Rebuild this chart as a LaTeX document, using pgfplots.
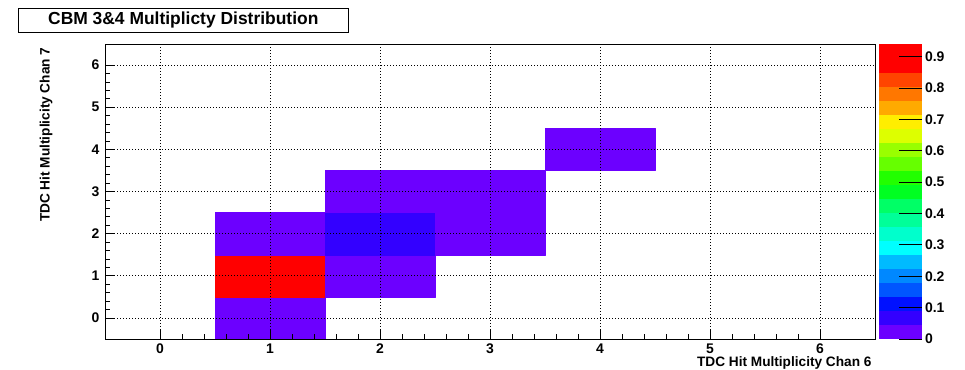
\documentclass[border=0pt]{standalone}
\usepackage{fontspec}
\setmainfont{Liberation Sans}
\usepackage{pgfplots}
\pgfplotsset{compat=1.18}
\usepgfplotslibrary{patchplots}
\pgfplotsset{
  colormap={rootpal}{
    rgb255=(108,0,255) rgb255=(51,0,255) rgb255=(0,17,255) rgb255=(0,85,255)
    rgb255=(0,136,255) rgb255=(0,187,255) rgb255=(0,255,255) rgb255=(0,255,204)
    rgb255=(0,255,153) rgb255=(0,255,102) rgb255=(0,255,34) rgb255=(34,255,0)
    rgb255=(102,255,0) rgb255=(153,255,0) rgb255=(221,255,0) rgb255=(255,238,0)
    rgb255=(255,170,0) rgb255=(255,119,0) rgb255=(255,68,0) rgb255=(255,0,0)
    rgb255=(255,0,0)
  }
}
% cell corners with the cell content
\pgfplotstableread{
x    y    z
0.5 -0.5 0.02
1.5 -0.5 0.02
1.5  0.5 0.02
0.5  0.5 0.02
0.5  0.5 0.94
1.5  0.5 0.94
1.5  1.5 0.94
0.5  1.5 0.94
0.5  1.5 0.02
1.5  1.5 0.02
1.5  2.5 0.02
0.5  2.5 0.02
1.5  0.5 0.02
2.5  0.5 0.02
2.5  1.5 0.02
1.5  1.5 0.02
1.5  1.5 0.07
2.5  1.5 0.07
2.5  2.5 0.07
1.5  2.5 0.07
2.5  1.5 0.02
3.5  1.5 0.02
3.5  2.5 0.02
2.5  2.5 0.02
1.5  2.5 0.02
2.5  2.5 0.02
2.5  3.5 0.02
1.5  3.5 0.02
2.5  2.5 0.02
3.5  2.5 0.02
3.5  3.5 0.02
2.5  3.5 0.02
3.5  3.5 0.02
4.5  3.5 0.02
4.5  4.5 0.02
3.5  4.5 0.02
}\cells
\begin{document}
\begin{tikzpicture}[font=\bfseries]
\path[use as bounding box] (0,0) rectangle (965bp,370bp);
\begin{axis}[
  at={(105bp,31bp)}, anchor=south west,
  scale only axis, width=770bp, height=295bp,
  xmin=-0.5, xmax=6.5, ymin=-0.5, ymax=6.5,
  xtick={0,...,6}, ytick={0,...,6},
  minor tick num=4,
  tick align=inside, tick pos=left,
  major tick length=9bp, minor tick length=4.5bp,
  tick style={black, line width=0.7bp},
  grid=major,
  major grid style={black, line width=0.6bp, dash pattern=on 0.8bp off 2.2bp},
  axis on top,
  axis line style={line width=0.9bp},
  /pgf/number format/assume math mode=true,
  ticklabel style={font=\bfseries\fontsize{14}{14}\selectfont},
  xticklabel style={yshift=-1bp},
  yticklabel style={xshift=-2bp},
  xlabel={TDC Hit Multiplicity Chan 6},
  ylabel={TDC Hit Multiplicity Chan 7},
  label style={font=\bfseries\fontsize{13.7}{14}\selectfont},
  xlabel style={at={(axis description cs:1,0)}, anchor=north east, yshift=-14bp},
  ylabel style={at={(axis description cs:0,1)}, anchor=south east, yshift=49bp},
  colormap name=rootpal,
  colormap access=piecewise constant,
  point meta min=0, point meta max=0.94,
  colorbar,
  colorbar style={
    at={(parent axis.north east)}, anchor=north west, xshift=-5bp,
    width=43bp,
    ytick={0,0.1,0.2,0.3,0.4,0.5,0.6,0.7,0.8,0.9},
    yticklabels={0,0.1,0.2,0.3,0.4,0.5,0.6,0.7,0.8,0.9},
    ytick pos=right, yticklabel pos=right,
    tick align=inside,
    major tick length=23bp,
    tick style={black, line width=0.8bp},
    axis line style={draw=none},
    yticklabel style={font=\bfseries\fontsize{14}{14}\selectfont, xshift=0bp},
  },
]
\addplot[patch, patch type=rectangle, shader=flat, point meta=explicit]
  table[x=x, y=y, meta=z] {\cells};
\end{axis}
\node[draw=black, line width=0.9bp, minimum width=330bp, minimum height=24bp,
      inner sep=0pt, font=\bfseries\fontsize{17.5}{18}\selectfont]
  at (183.3bp,350bp) {CBM 3\&4 Multiplicty Distribution};
\end{tikzpicture}
\end{document}
